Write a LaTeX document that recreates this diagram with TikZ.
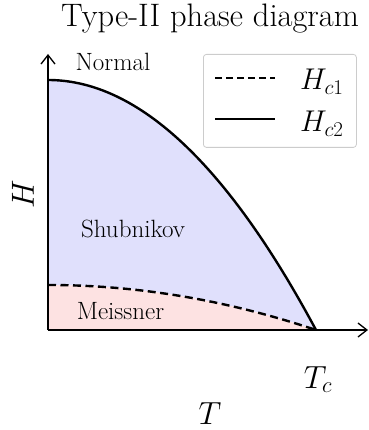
\documentclass[tikz,border=0pt]{standalone}
\usepackage{fix-cm}
\usetikzlibrary{arrows.meta}
\definecolor{scblue}{RGB}{224,224,252}
\definecolor{mpink}{RGB}{253,226,226}
\definecolor{legframe}{RGB}{204,204,204}
\tikzset{
  axis/.style={line width=1.3pt, -{Straight Barb[length=9pt,width=14pt,line width=1.3pt]}},
  curve/.style={line width=2.4pt, line join=round},
  dashcurve/.style={curve, dash pattern=on 8pt off 4.5pt},
  region/.style={font=\fontsize{25}{30}\selectfont, anchor=base, inner sep=0pt},
  axlabel/.style={font=\fontsize{32}{38}\selectfont, anchor=base, inner sep=0pt},
  leglabel/.style={font=\fontsize{30}{36}\selectfont, anchor=base west, inner sep=0pt},
}
\begin{document}
\begin{tikzpicture}[x=1pt,y=-1pt]
\useasboundingbox (0,0) rectangle (368,430);
% regions
\fill[scblue] plot[domain=0:1,samples=60] ({48+268*\x},{285+45*\x*\x})
   -- plot[domain=1:0,samples=60] ({48+268*\x},{80+250*\x*\x}) -- cycle;
\fill[mpink] (48,330) -- plot[domain=0:1,samples=60] ({48+268*\x},{285+45*\x*\x}) -- cycle;
% axes
\coordinate (O) at (48,330);
\coordinate (xend) at (368,330);
\coordinate (yend) at (48,54);
\draw[axis] (O) -- (xend);
\draw[axis] (O) -- (yend);
% curves
\draw[curve] plot[domain=0:1,samples=80] ({48+268*\x},{80+250*\x*\x});
\draw[dashcurve] plot[domain=0:1,samples=80] ({48+268*\x},{285+45*\x*\x});
% labels
\node[anchor=base, inner sep=0pt, font=\fontsize{32.5}{38}\selectfont] (title) at (210,27) {Type-II phase diagram};
\node[region] (normal) at (113,71) {Normal};
\node[region] (shub) at (133,237) {Shubnikov};
\node[region] (meis) at (120.5,319) {Meissner};
\node[axlabel, rotate=90, anchor=center] (hlab) at (23,194) {$H$};
\node[axlabel] (tc) at (318,388) {$T_c$};
\node[axlabel] (tlab) at (210,424) {$T$};
% legend
\node[draw=legframe, line width=0.8pt, fill=white, rounded corners=3pt,
      minimum width=153pt, minimum height=93pt, anchor=north west, inner sep=0pt] (legend) at (203,54) {};
\coordinate (d1) at (215,78);
\coordinate (d2) at (275,78);
\coordinate (s1) at (215,119);
\coordinate (s2) at (275,119);
\draw[dashcurve, line width=2.2pt, dash pattern=on 7pt off 4pt] (d1) -- (d2);
\draw[curve, line width=2.2pt] (s1) -- (s2);
\node[leglabel] (l1) at (300,90) {$H_{c1}$};
\node[leglabel] (l2) at (300,132) {$H_{c2}$};
\end{tikzpicture}
\end{document}
